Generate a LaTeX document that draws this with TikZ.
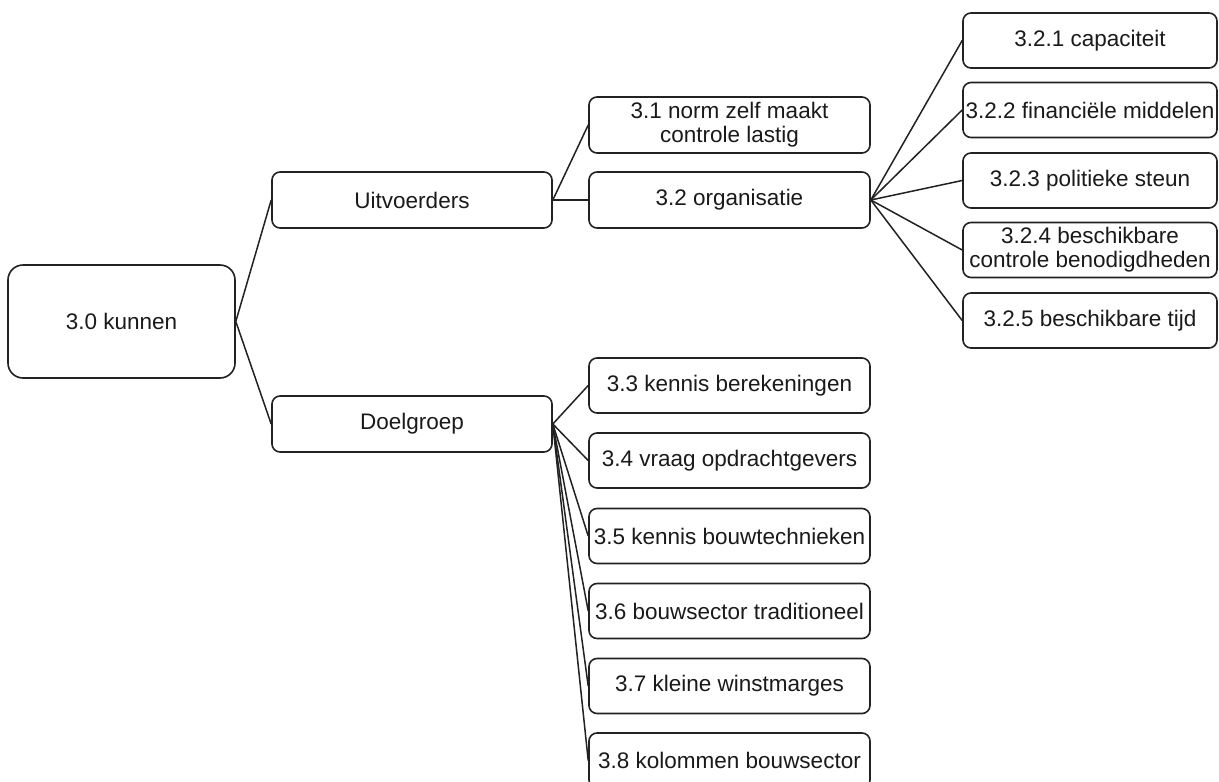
\documentclass[tikz,border=0pt]{standalone}
\usepackage{fontspec}
\setmainfont{Liberation Sans}
\definecolor{ink}{HTML}{222222}
\definecolor{txt}{HTML}{1A1A1A}
\begin{document}
\begin{tikzpicture}[x=1pt,y=-1pt,
  box/.style={draw=ink, line width=1.6pt, rounded corners=8pt, fill=white,
    inner sep=0pt, align=center, text=txt,
    font=\fontsize{22.5}{24}\selectfont},
  bigbox/.style={box, rounded corners=15pt},
  lvlone/.style={box, minimum width=280pt, minimum height=56pt},
  lvltwo/.style={box, minimum width=281pt, minimum height=56pt},
  lvlthree/.style={box, minimum width=254pt, minimum height=55pt},
  link/.style={draw=ink, line width=1.5pt}]
\useasboundingbox (0,0) rectangle (1219,782);
\fill[white] (0,0) rectangle (1219,782);

\node[bigbox, minimum width=227pt, minimum height=113pt] (n30) at (121.5,321.5) {3.0 kunnen};
\node[lvlone] (uit) at (412,200) {Uitvoerders};
\node[lvlone] (doel) at (412,424) {Doelgroep};

\node[lvltwo] (n31) at (729.5,125) {3.1 norm zelf maakt\\controle lastig};
\node[lvltwo] (n32) at (729.5,200) {3.2 organisatie};

\node[lvlthree] (n321) at (1090,40.5) {3.2.1 capaciteit};
\node[lvlthree] (n322) at (1090,110) {3.2.2 financiële middelen};
\node[lvlthree] (n323) at (1090,180.5) {3.2.3 politieke steun};
\node[lvlthree] (n324) at (1090,250) {3.2.4 beschikbare\\controle benodigdheden};
\node[lvlthree] (n325) at (1090,320.5) {3.2.5 beschikbare tijd};

\node[lvltwo, minimum height=55pt] (n33) at (729.5,385.5) {3.3 kennis berekeningen};
\node[lvltwo, minimum height=55pt] (n34) at (729.5,460.5) {3.4 vraag opdrachtgevers};
\node[lvltwo, minimum height=55pt] (n35) at (729.5,536) {3.5 kennis bouwtechnieken};
\node[lvltwo, minimum height=55pt] (n36) at (729.5,611) {3.6 bouwsector traditioneel};
\node[lvltwo, minimum height=55pt] (n37) at (729.5,686) {3.7 kleine winstmarges};
\node[lvltwo, minimum height=55pt] (n38) at (729.5,760.5) {3.8 kolommen bouwsector};

\draw[link] (n30.east) -- (uit.west);
\draw[link] (n30.east) -- (doel.west);
\draw[link] (uit.east) -- (n31.west);
\draw[link] (uit.east) -- (n32.west);
\foreach \t in {n321,n322,n323,n324,n325}
  \draw[link] (n32.east) -- (\t.west);
\foreach \t in {n33,n34,n35,n36,n37,n38}
  \draw[link] (doel.east) -- (\t.west);
\end{tikzpicture}
\end{document}
